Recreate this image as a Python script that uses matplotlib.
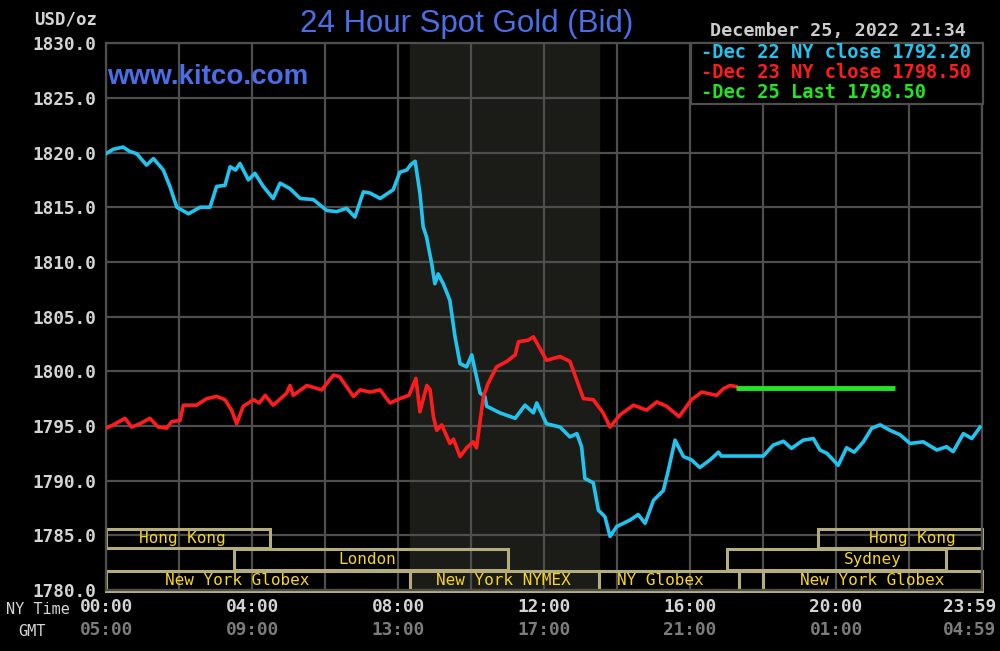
import numpy as np
import matplotlib.pyplot as plt
from matplotlib.patches import Rectangle
import matplotlib.transforms as mtransforms

# Dec 22 NY close series (hours NY time, USD/oz)
dec22_hours = [0.0, 0.2, 0.47, 0.65, 0.84, 1.11, 1.30, 1.57, 1.75, 1.94, 2.26, 2.58, 2.85, 3.03,
               3.26, 3.40, 3.55, 3.67, 3.90, 4.08, 4.31, 4.58, 4.77, 5.04, 5.32, 5.68, 6.05, 6.32,
               6.59, 6.82, 7.05, 7.23, 7.51, 7.87, 8.05, 8.24, 8.35, 8.47, 8.60, 8.69, 8.78, 8.92,
               9.01, 9.10, 9.24, 9.42, 9.56, 9.70, 9.88, 10.02, 10.11, 10.25, 10.38, 10.43, 10.79,
               11.21, 11.48, 11.71, 11.80, 12.07, 12.44, 12.71, 12.90, 13.03, 13.12, 13.35, 13.49,
               13.67, 13.81, 13.99, 14.36, 14.58, 14.77, 15.00, 15.27, 15.41, 15.59, 15.82, 16.04,
               16.27, 16.55, 16.78, 16.86, 18.01, 18.28, 18.56, 18.78, 19.10, 19.38, 19.56, 19.75,
               20.06, 20.29, 20.50, 20.75, 20.98, 21.21, 21.48, 21.75, 22.03, 22.39, 22.76, 23.03,
               23.21, 23.49, 23.72, 23.95]
dec22_price = [1819.9, 1820.3, 1820.5, 1820.1, 1819.9, 1818.85, 1819.45, 1818.4, 1816.9, 1815.0,
               1814.4, 1815.0, 1815.0, 1816.9, 1817.0, 1818.7, 1818.4, 1819.0, 1817.5, 1818.1,
               1816.9, 1815.8, 1817.2, 1816.7, 1815.8, 1815.7, 1814.7, 1814.6, 1814.9, 1814.1,
               1816.4, 1816.3, 1815.8, 1816.6, 1818.2, 1818.4, 1818.9, 1819.2, 1816.3, 1813.2,
               1812.3, 1809.9, 1808.0, 1808.9, 1808.0, 1806.5, 1803.2, 1800.7, 1800.4, 1801.5,
               1800.1, 1798.0, 1797.7, 1796.8, 1796.2, 1795.7, 1796.9, 1796.2, 1797.1, 1795.2,
               1794.9, 1794.0, 1794.3, 1793.1, 1790.2, 1789.8, 1787.3, 1786.7, 1784.9, 1785.8,
               1786.4, 1786.9, 1786.1, 1788.2, 1789.1, 1791.0, 1793.7, 1792.2, 1791.9, 1791.2,
               1791.9, 1792.6, 1792.25, 1792.25, 1793.25, 1793.6, 1792.95, 1793.7, 1793.85, 1792.8,
               1792.5, 1791.4, 1793.0, 1792.6, 1793.55, 1794.8, 1795.1, 1794.6, 1794.2, 1793.4,
               1793.55, 1792.8, 1793.1, 1792.65, 1794.3, 1793.85, 1794.9]

# Dec 23 NY close series
dec23_hours = [0.0, 0.2, 0.52, 0.7, 0.93, 1.2, 1.43, 1.66, 1.8, 2.03, 2.12, 2.48, 2.76, 3.03, 3.26,
               3.44, 3.58, 3.76, 4.04, 4.2, 4.36, 4.58, 4.95, 5.04, 5.13, 5.5, 5.91, 6.23, 6.4, 6.78,
               6.96, 7.23, 7.51, 7.78, 8.05, 8.3, 8.49, 8.6, 8.79, 8.88, 8.97, 9.06, 9.2, 9.42, 9.52,
               9.7, 9.88, 10.06, 10.15, 10.34, 10.47, 10.7, 10.98, 11.21, 11.3, 11.57, 11.71, 12.07,
               12.44, 12.71, 13.08, 13.35, 13.62, 13.81, 14.08, 14.45, 14.81, 15.09, 15.36, 15.7,
               16.04, 16.32, 16.73, 16.91, 17.1, 17.26]
dec23_price = [1794.8, 1795.1, 1795.7, 1794.9, 1795.2, 1795.7, 1794.9, 1794.8, 1795.4, 1795.5,
               1796.9, 1796.9, 1797.5, 1797.7, 1797.4, 1796.45, 1795.2, 1796.8, 1797.4, 1797.1,
               1797.8, 1796.9, 1798.0, 1798.7, 1797.8, 1798.7, 1798.3, 1799.65, 1799.5, 1797.7,
               1798.3, 1798.1, 1798.3, 1797.1, 1797.5, 1797.8, 1799.35, 1796.3, 1798.7, 1798.3,
               1795.85, 1794.6, 1795.1, 1793.4, 1793.8, 1792.2, 1793.0, 1793.55, 1793.0, 1797.7,
               1798.9, 1800.4, 1800.9, 1801.5, 1802.7, 1802.85, 1803.15, 1801.0, 1801.35, 1800.9,
               1797.5, 1797.4, 1796.2, 1794.9, 1796.0, 1796.9, 1796.45, 1797.2, 1796.8, 1795.85,
               1797.4, 1798.1, 1797.8, 1798.4, 1798.7, 1798.6]

# Dec 25 last (flat)
dec25_hours = [17.26, 21.62]
dec25_price = [1798.5, 1798.5]

legend_lines = ['-Dec 22 NY close 1792.20', '-Dec 23 NY close 1798.50', '-Dec 25 Last 1798.50']

ny_ticks = [0, 4, 8, 12, 16, 20, 23.65]
ny_labels = ['00:00', '04:00', '08:00', '12:00', '16:00', '20:00', '23:59']
gmt_labels = ['05:00', '09:00', '13:00', '17:00', '21:00', '01:00', '04:59']

# trading sessions: name, start hour, end hour, row, label hour
session_names = ['Hong Kong', 'Hong Kong', 'London', 'Sydney', 'New York Globex',
                 'New York NYMEX', 'NY Globex', '', 'New York Globex']
session_start = [0, 19.5, 3.5, 17, 0, 8.33, 13.5, 17.33, 18]
session_end = [4.5, 24, 11, 23, 8.33, 13.5, 17.33, 18, 24]
session_row = [0, 0, 1, 1, 2, 2, 2, 2, 2]
label_hour = [2.1, 22.1, 7.15, 21.0, 3.6, 10.9, 15.2, 0, 21.0]
row_bottom = [1783.85, 1781.85, 1779.95]
row_top = [1785.6, 1783.75, 1781.75]

blue = '#20c4ee'
red = '#ff1c1c'
green = '#22e622'
grid_col = '#4e4e4e'
tan = '#b5ae7c'
yellow = '#f7d61c'

fig = plt.figure(figsize=(10, 6.51), dpi=100, facecolor='black')
ax = fig.add_axes([0.106, 0.0937, 0.876, 0.840])
ax.set_facecolor('black')
ax.set_xlim(0, 24)
ax.set_ylim(1780, 1830)

# NYMEX pit hours shading
ax.axvspan(8.33, 13.5, color='#1b1b18', zorder=0)

ax.set_xticks(np.arange(0, 25, 2))
ax.set_yticks(np.arange(1780, 1831, 5))
ax.grid(True, color=grid_col, linewidth=1.6, zorder=1)
ax.tick_params(length=0, labelbottom=False)
ax.set_yticklabels(['%.1f' % v for v in np.arange(1780, 1831, 5)],
                   family='DejaVu Sans Mono', fontweight='bold', fontsize=12.8, color='#d4d4d4')
ax.tick_params(axis='y', pad=7)
for s in ax.spines.values():
    s.set_color(grid_col)
    s.set_linewidth(1.6)

ax.plot(dec22_hours, dec22_price, color=blue, linewidth=2.6, zorder=3)
ax.plot(dec23_hours, dec23_price, color=red, linewidth=2.6, zorder=3)
ax.plot(dec25_hours, dec25_price, color=green, linewidth=3.5, zorder=4, solid_capstyle='butt')

# session boxes
for name, a, b, r, lx in zip(session_names, session_start, session_end, session_row, label_hour):
    ax.add_patch(Rectangle((a, row_bottom[r]), b - a, row_top[r] - row_bottom[r],
                           fill=False, edgecolor=tan, linewidth=2.2, zorder=2, clip_on=False))
    if name:
        ax.text(lx, (row_bottom[r] + row_top[r]) / 2, name, ha='center', va='center',
                family='DejaVu Sans Mono', fontsize=11.5, color=yellow, zorder=5)

# x labels (NY time and GMT)
trans = mtransforms.blended_transform_factory(ax.transData, fig.transFigure)
for t, l1, l2 in zip(ny_ticks, ny_labels, gmt_labels):
    ax.text(t, 1 - 607 / 651, l1, transform=trans, ha='center', va='center',
            family='DejaVu Sans Mono', fontweight='bold', fontsize=12.8, color='#d4d4d4')
    ax.text(t, 1 - 630 / 651, l2, transform=trans, ha='center', va='center',
            family='DejaVu Sans Mono', fontweight='bold', fontsize=12.8, color='#7c7c7c')
fig.text(0.038, 1 - 609 / 651, 'NY Time', ha='center', va='center',
         family='DejaVu Sans Mono', fontsize=11, color='#d4d4d4')
fig.text(0.032, 1 - 631 / 651, 'GMT', ha='center', va='center',
         family='DejaVu Sans Mono', fontsize=11, color='#d4d4d4')

fig.text(0.066, 1 - 19 / 651, 'USD/oz', ha='center', va='center',
         family='DejaVu Sans Mono', fontweight='bold', fontsize=12.5, color='#d4d4d4')
fig.text(0.467, 1 - 24 / 651, '24 Hour Spot Gold (Bid)', ha='center', va='center',
         family='Liberation Sans', fontsize=22.5, color='#4a6ee6')
fig.text(0.107, 1 - 77 / 651, 'www.kitco.com', ha='left', va='center',
         family='Liberation Sans', fontweight='bold', fontsize=20, color='#4a6ee6')
fig.text(0.8375, 1 - 31 / 651, 'December 25, 2022 21:34', ha='center', va='center',
         family='DejaVu Sans Mono', fontweight='bold', fontsize=13.3, color='#cccccc')

# legend box
fig.patches.append(Rectangle((0.691, 1 - 104 / 651), 0.292, 61 / 651, transform=fig.transFigure,
                             facecolor='black', edgecolor=grid_col, linewidth=1.6, zorder=5))
for i, (txt, c) in enumerate(zip(legend_lines, [blue, red, green])):
    fig.text(0.701, 1 - (53 + 20 * i) / 651, txt, ha='left', va='center', zorder=6,
             family='DejaVu Sans Mono', fontweight='bold', fontsize=13.5, color=c)

plt.savefig('out.png', dpi=100, facecolor='black')
